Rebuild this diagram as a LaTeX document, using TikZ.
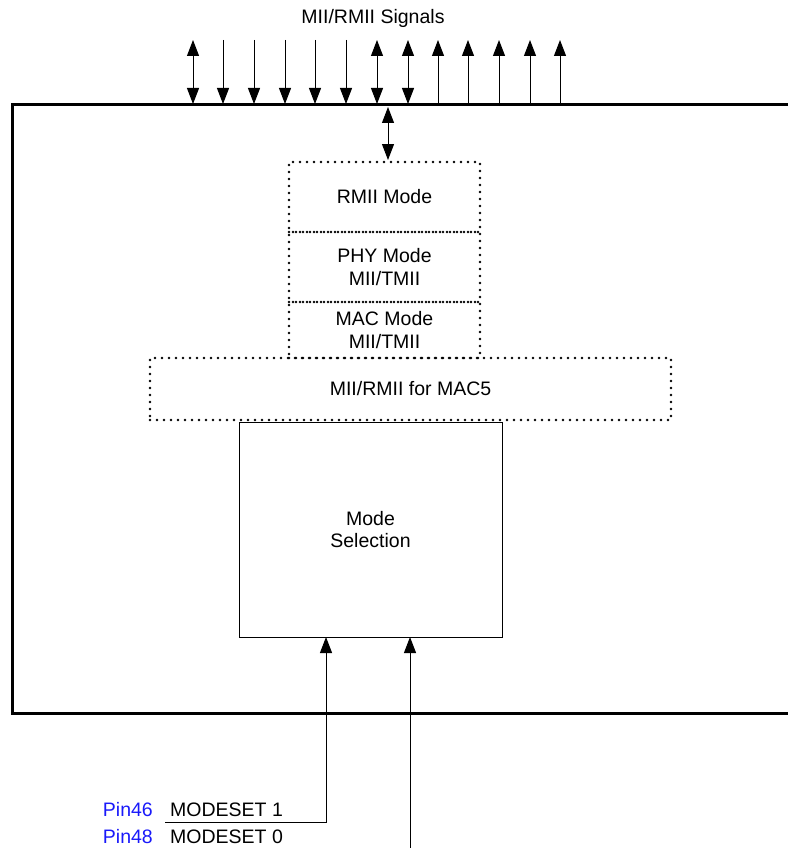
\documentclass[tikz,border=0pt]{standalone}
\usepackage{fontspec}
\setmainfont{Liberation Sans}
\definecolor{PinBlue}{RGB}{25,25,250}
\usetikzlibrary{positioning, arrows.meta}

\begin{document}
\begin{tikzpicture}[x=1pt, y=-1pt, >={Triangle[length=16pt,width=12pt]},
    every node/.style={font=\fontsize{19.5}{22.5}\selectfont},
    dotbox/.style={draw, line width=2.7pt, line cap=round, dash pattern=on 0pt off 7pt, align=center, inner sep=0pt, outer sep=0pt, minimum width=191pt},
    selbox/.style={draw, line width=1pt, align=center, inner sep=0pt, outer sep=0pt},
    pinlbl/.style={inner sep=0pt, text=PinBlue, anchor=base east},
    siglbl/.style={inner sep=0pt, anchor=base west},
    sig/.style={line width=1pt},
    sigboth/.style={sig, <->},
    sigdown/.style={sig, ->},
    sigup/.style={sig, <-},
    chip/.style={line width=3pt}]
  \useasboundingbox (0,0) rectangle (788,848);
  \draw[chip] (788,105) -- (12,105) -- (12,713) -- (788,713);
  \node (title) at (373,18) {MII/RMII Signals};
  \foreach \x/\kind [count=\i] in {193/sigboth, 223/sigdown, 254/sigdown, 285/sigdown, 315/sigdown, 346/sigdown, 377/sigboth, 408/sigboth, 438/sigup, 468/sigup, 499/sigup, 530/sigup, 560/sigup} {
    \coordinate (top\i) at (\x,40);
    \coordinate (bot\i) at (\x,104);
    \draw[\kind] (top\i) -- (bot\i);
  }
  \node[dotbox, minimum height=70pt] (rmii) at (384.5,197) {RMII Mode};
  \node[dotbox, minimum height=70pt, below=0pt of rmii] (phy) {PHY Mode\\MII/TMII};
  \node[dotbox, minimum height=56pt, below=0pt of phy] (mac) {MAC Mode\\MII/TMII};
  \node[dotbox, minimum width=521pt, minimum height=62pt, below=0pt of mac, xshift=26pt] (mac5) {MII/RMII for MAC5};
  \node[selbox, minimum width=263pt, minimum height=215pt, below=2pt of mac5, xshift=-40pt] (modesel) {Mode\\Selection};
  \coordinate (port) at (388,107);
  \draw[sigboth, shorten >=2pt] (port) -- ([xshift=3.5pt]rmii.north);
  \node[pinlbl] (pin46) at (153,816) {Pin46};
  \node[siglbl] (ms1) at (170,816) {MODESET 1};
  \node[pinlbl] (pin48) at (153,843) {Pin48};
  \node[siglbl] (ms0) at (170,843) {MODESET 0};
  \coordinate (m1) at (165,822);
  \coordinate (m0) at (410,848);
  \draw[sigdown] (m1) -| ([xshift=-44.5pt]modesel.south);
  \draw[sigdown] (m0) -- ([xshift=39.5pt]modesel.south);
\end{tikzpicture}
\end{document}
